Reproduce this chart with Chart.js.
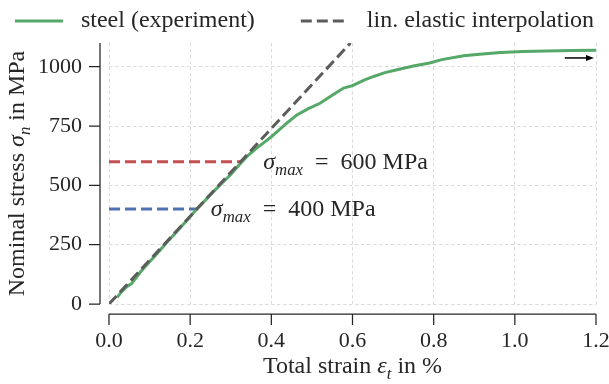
<!DOCTYPE html>
<html>
<head>
<meta charset="utf-8">
<script src="https://cdn.jsdelivr.net/npm/chart.js"></script>
<style>
  html, body { margin: 0; padding: 0; background: #fff; }
</style>
</head>
<body>
<canvas id="myChart" width="609" height="384"></canvas>
<script>
// values: total strain in %, nominal stress in MPa
const strain = [0.02, 0.03, 0.045, 0.055, 0.07, 0.08, 0.10, 0.12, 0.14, 0.16, 0.18, 0.20, 0.216, 0.24, 0.26, 0.28,
  0.30, 0.32, 0.34, 0.36, 0.38, 0.40, 0.42, 0.44, 0.463, 0.49, 0.52, 0.55, 0.578, 0.60, 0.63, 0.652,
  0.68, 0.71, 0.75, 0.79, 0.82, 0.874, 0.92, 0.965, 1.02, 1.08, 1.14, 1.2];
const stress = [28, 50, 75, 85, 118, 140, 178, 215, 255, 292, 330, 368, 400, 442, 478, 512,
  546, 585, 622, 652, 678, 705, 735, 765, 797, 822, 846, 880, 910, 920, 945, 959,
  975, 987, 1003, 1016, 1030, 1046, 1054, 1060, 1064, 1066, 1068, 1069];

const elasticStrain = [0, 0.595];
const elasticStress = [0, 1100];

const limitStress = [600, 400];
const limitStrain = [0.325, 0.216];
const limitColors = ['#c44e52', '#4c72b0'];
const limitText = ['600 MPa', '400 MPa'];
const labelStrain = [0.38, 0.251];
const labelStress = [594, 396];

const arrowStrain = [1.123, 1.195];
const arrowStress = 1037;

const xTicks = [0, 0.2, 0.4, 0.6, 0.8, 1.0, 1.2];
const yTicks = [0, 250, 500, 750, 1000];

const serif = "'Liberation Serif', 'Times New Roman', serif";
const ink = '#262626';

function pts(xs, ys) {
  return xs.map((x, i) => ({x: x, y: ys[i]}));
}

// draws text made of parts: {t, it (italic), sub (subscript)}
function richWidth(ctx, parts, size) {
  let w = 0;
  parts.forEach(p => {
    ctx.font = (p.it ? 'italic ' : '') + (p.sub ? size * 0.7 : size) + 'px ' + serif;
    w += ctx.measureText(p.t).width;
  });
  return w;
}
function drawRich(ctx, parts, x, y, size) {
  ctx.textBaseline = 'middle';
  ctx.textAlign = 'left';
  parts.forEach(p => {
    ctx.font = (p.it ? 'italic ' : '') + (p.sub ? size * 0.7 : size) + 'px ' + serif;
    ctx.fillText(p.t, x, p.sub ? y + size * 0.3 : y);
    x += ctx.measureText(p.t).width;
  });
}

const datasets = [
  {
    label: 'steel (experiment)',
    data: pts(strain, stress),
    borderColor: '#55a868',
    borderWidth: 3,
    order: 2
  },
  {
    label: 'lin. elastic interpolation',
    data: pts(elasticStrain, elasticStress),
    borderColor: '#5c5c5c',
    borderWidth: 3,
    borderDash: [11, 5],
    order: 1
  }
];
limitStress.forEach((s, i) => {
  datasets.push({
    label: 'limit ' + s,
    data: [{x: 0, y: s}, {x: limitStrain[i], y: s}],
    borderColor: limitColors[i],
    borderWidth: 3,
    borderDash: [11, 5],
    order: 3
  });
});

const extras = {
  id: 'extras',
  afterDraw(chart) {
    const ctx = chart.ctx;
    const xs = chart.scales.x, ys = chart.scales.y;
    const area = chart.chartArea;
    ctx.save();
    ctx.strokeStyle = ink;
    ctx.fillStyle = ink;
    ctx.lineWidth = 1.25;
    ctx.setLineDash([]);

    // offset spines with tick marks
    const sy = area.bottom + 10;
    ctx.beginPath();
    ctx.moveTo(xs.getPixelForValue(0), sy);
    ctx.lineTo(xs.getPixelForValue(1.2), sy);
    xTicks.forEach(v => {
      const px = xs.getPixelForValue(v);
      ctx.moveTo(px, sy);
      ctx.lineTo(px, sy + 11);
    });
    const sx = area.left - 9;
    ctx.moveTo(sx, ys.getPixelForValue(0));
    ctx.lineTo(sx, ys.getPixelForValue(1100));
    yTicks.forEach(v => {
      const py = ys.getPixelForValue(v);
      ctx.moveTo(sx, py);
      ctx.lineTo(sx - 11, py);
    });
    ctx.stroke();

    // arrow
    const ay = ys.getPixelForValue(arrowStress);
    const ax0 = xs.getPixelForValue(arrowStrain[0]);
    const ax1 = xs.getPixelForValue(arrowStrain[1]);
    ctx.strokeStyle = '#000';
    ctx.fillStyle = '#000';
    ctx.lineWidth = 1.5;
    ctx.beginPath();
    ctx.moveTo(ax0, ay);
    ctx.lineTo(ax1 - 6, ay);
    ctx.stroke();
    ctx.beginPath();
    ctx.moveTo(ax1, ay);
    ctx.lineTo(ax1 - 8, ay - 3);
    ctx.lineTo(ax1 - 8, ay + 3);
    ctx.closePath();
    ctx.fill();

    // annotations
    ctx.fillStyle = ink;
    limitText.forEach((t, i) => {
      drawRich(ctx, [{t: 'σ', it: true}, {t: 'max', it: true, sub: true}, {t: '\u2002=\u2002' + t}],
        xs.getPixelForValue(labelStrain[i]), ys.getPixelForValue(labelStress[i]), 24);
    });

    // axis titles
    const xt = [{t: 'Total strain '}, {t: 'ε', it: true}, {t: 't', it: true, sub: true}, {t: ' in %'}];
    const wx = richWidth(ctx, xt, 24);
    drawRich(ctx, xt, (area.left + area.right) / 2 - wx / 2, 367, 24);

    const yt = [{t: 'Nominal stress '}, {t: 'σ', it: true}, {t: 'n', it: true, sub: true}, {t: ' in MPa'}];
    const wy = richWidth(ctx, yt, 24);
    ctx.translate(18, (area.top + area.bottom) / 2);
    ctx.rotate(-Math.PI / 2);
    drawRich(ctx, yt, -wy / 2, 0, 24);
    ctx.restore();
  }
};

const ctx = document.getElementById('myChart').getContext('2d');
new Chart(ctx, {
  type: 'line',
  data: {datasets: datasets},
  options: {
    responsive: false,
    animation: false,
    parsing: false,
    elements: {
      point: {radius: 0},
      line: {tension: 0, borderCapStyle: 'butt'}
    },
    layout: {padding: 0},
    plugins: {
      tooltip: {enabled: false},
      legend: {
        position: 'top',
        labels: {
          usePointStyle: true,
          pointStyleWidth: 48,
          padding: 4,
          color: ink,
          font: {family: serif, size: 24},
          sort: (a, b) => a.datasetIndex - b.datasetIndex,
          generateLabels(chart) {
            const ds = chart.data.datasets;
            return [0, 1].map(i => ({
              text: ' ' + ds[i].label + (i === 0 ? '       ' : ''),
              strokeStyle: ds[i].borderColor,
              fillStyle: ds[i].borderColor,
              lineWidth: 3,
              lineDash: ds[i].borderDash || [],
              lineCap: 'butt',
              pointStyle: 'line',
              fontColor: ink,
              hidden: false,
              datasetIndex: i
            }));
          }
        }
      }
    },
    scales: {
      x: {
        type: 'linear',
        min: 0,
        max: 1.2,
        afterBuildTicks: s => { s.ticks = xTicks.map(v => ({value: v})); },
        afterFit: s => { s.height = 80; s.paddingRight = 13; s.paddingLeft = 0; },
        ticks: {
          padding: 24,
          color: ink,
          font: {family: serif, size: 22},
          callback: v => v.toFixed(1)
        },
        grid: {color: '#dcdcdc', lineWidth: 1, drawTicks: false},
        border: {display: false, dash: [3.5, 2.5]}
      },
      y: {
        type: 'linear',
        min: 0,
        max: 1100,
        afterBuildTicks: s => { s.ticks = yTicks.map(v => ({value: v})); },
        afterFit: s => { s.width = 109; s.paddingTop = 43; },
        ticks: {
          padding: 27,
          color: ink,
          font: {family: serif, size: 22},
          callback: v => String(v)
        },
        grid: {color: '#dcdcdc', lineWidth: 1, drawTicks: false},
        border: {display: false, dash: [3.5, 2.5]}
      }
    }
  },
  plugins: [extras]
});
</script>
</body>
</html>
